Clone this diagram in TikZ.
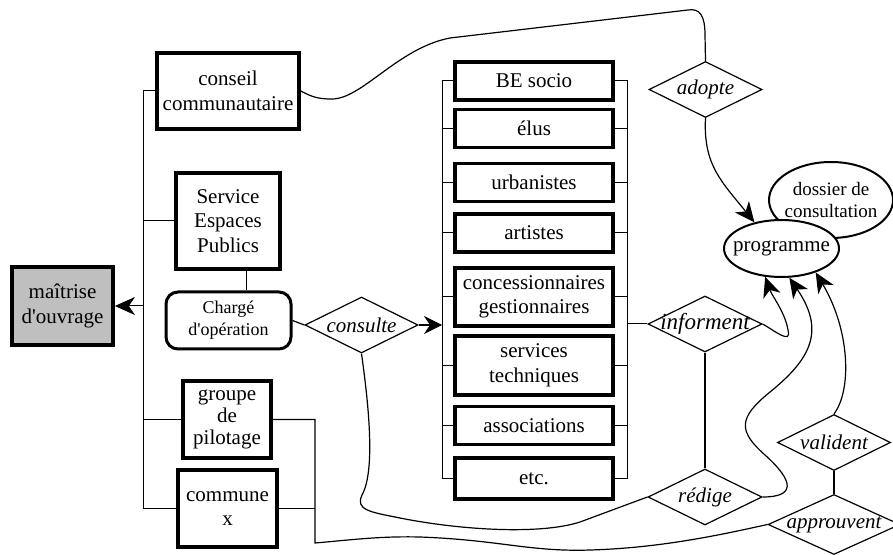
\documentclass[tikz,border=0pt]{standalone}
\usepackage{fontspec}
\setmainfont{Liberation Serif}
\usetikzlibrary{shapes.geometric,arrows.meta}
\begin{document}
\begin{tikzpicture}[x=0.5pt,y=-0.5pt,
  txt/.style={font=\fontsize{10.5}{12.3}\selectfont, align=center, inner sep=0pt},
  box/.style={txt, draw, line width=1.9pt},
  mid/.style={box, minimum width=79pt, minimum height=19pt},
  midtwo/.style={box, minimum width=79pt, minimum height=29pt},
  itx/.style={inner sep=0pt, font=\fontsize{10.5}{12}\selectfont\itshape},
  rel/.style={diamond, draw, line width=0.6pt, inner sep=0pt, minimum width=56.5pt, minimum height=28pt},
  oval/.style={ellipse, draw, line width=1pt, inner sep=0pt},
  conn/.style={line width=0.6pt},
  bus/.style={line width=0.5pt},
  bigarr/.style={-{Stealth[length=10pt,width=9pt,inset=3pt]}},
  arr/.style={-{Stealth[length=10pt,width=9pt,inset=3pt]}}]
\clip (0,0) rectangle (893,555);
\fill[white] (0,0) rectangle (893,555);

% left column
\node[box, fill=black!25, minimum width=50.5pt, minimum height=39pt] (mo) at (62.5,306) {maîtrise\\d\textquotesingle ouvrage};
\node[box, minimum width=71pt, minimum height=38pt] (cc) at (228,91) {conseil\\communautaire};
\node[box, line width=2.2pt, minimum width=52pt, minimum height=48pt] (sep) at (228,221) {Service\\Espaces\\Publics};
\node[draw, rounded corners=6pt, line width=1.5pt, minimum width=62.5pt, minimum height=28.5pt, align=center, inner sep=0pt, font=\fontsize{9}{11}\selectfont] (co) at (228.5,320.5) {Chargé\\d\textquotesingle opération};
\node[box, font=\fontsize{10.5}{11}\selectfont, minimum width=44pt, minimum height=38.5pt] (gp) at (227,419.5) {groupe\\de\\pilotage};
\node[box, minimum width=49.5pt, minimum height=38.5pt] (cx) at (227.5,508.5) {commune\\x};

% middle column
\node[mid] (be) at (534,81) {BE socio};
\node[mid] (el) at (534,128.5) {élus};
\node[mid] (ur) at (534,182.5) {urbanistes};
\node[mid] (ar) at (534,233) {artistes};
\node[midtwo] (cg) at (534,297) {concessionnaires\\gestionnaires};
\node[midtwo, minimum height=29.5pt] (st) at (534,365.5) {services\\techniques};
\node[mid] (as) at (534,425.5) {associations};
\node[mid, minimum height=20.5pt] (et) at (534,478.5) {etc.};

% relations
\node[rel, label={[itx]center:consulte}] (cons) at (361.5,325) {};
\node[rel, label={[itx]center:adopte}] (adop) at (705.5,89.5) {};
\node[rel, minimum width=57pt, label={[itx, font=\fontsize{11.5}{13}\selectfont\itshape]center:informent}] (inf) at (705,324) {};
\node[rel, minimum width=57pt, label={[itx]center:rédige}] (red) at (705,497) {};
\node[rel, label={[itx]center:valident}] (val) at (834,442.5) {};
\node[rel, minimum width=66pt, minimum height=30pt, label={[itx]center:approuvent}] (app) at (834,524.5) {};

% ellipses
\node[oval, minimum width=62pt, minimum height=38pt, label={[inner sep=0pt, align=center, font=\fontsize{9.5}{10.8}\selectfont]center:dossier de\\consultation}] (dos) at (831,200) {};
\node[oval, fill=white, minimum width=57.5pt, minimum height=28.5pt, label={[txt]center:programme}] (prog) at (781.5,248.5) {};

% left bus
\coordinate (lbx) at (143,0);
\draw[bus] (cc.west) -- (cc.west -| lbx) -- (cx.west -| lbx) -- (cx.west);
\draw[bus] (sep.west) -- (sep.west -| lbx);
\draw[bus] (gp.west) -- (gp.west -| lbx);
\draw[bus, bigarr] (mo.east -| lbx) -- (mo.east);

% SEP to charge
\coordinate (sepc) at ([xshift=9pt]sep.south);
\draw[bus] (sepc) -- (sepc |- co.north);
\draw[conn] (co.east) -- (cons.west);

% middle buses
\coordinate (mlx) at (442,0);
\coordinate (mrx) at (627,0);
\draw[bus] (be.west) -- (be.west -| mlx) -- (et.west -| mlx) -- (et.west);
\draw[bus] (be.east) -- (be.east -| mrx) -- (et.east -| mrx) -- (et.east);
\foreach \n in {el,ur,ar,cg,st,as}{
  \draw[bus] (\n.west) -- (\n.west -| mlx);
  \draw[bus] (\n.east) -- (\n.east -| mrx);
}
\draw[conn, -{Stealth[length=9pt,width=9pt,inset=3pt]}] (cons.east) -- (cons.east -| mlx);
\draw[bus] (inf.west -| mrx) -- (inf.west);

% vertical links
\draw[conn] (inf.south) -- (red.north);
\draw[conn] (val.south) -- (app.north);

% conseil -> adopte
\draw[conn] (cc.east) .. controls (312,97) and (318,99) .. (332,99)
  .. controls (362,99) and (398,48) .. (450,38) -- (688,10)
  .. controls (700,8) and (705,16) .. (705,35) -- (adop.north);

% adopte -> programme
\draw[conn, arr] (adop.south) .. controls (703,165) and (722,182) .. (prog.136);

% informent -> programme
\draw[conn, arr] (inf.east) .. controls (775,331) and (792,345) .. (788,330)
  .. controls (785,312) and (772,296) .. (prog.240);

% redige -> programme
\draw[conn, arr] (red.east) .. controls (795,497) and (795,482) .. (765,455)
  .. controls (738,431) and (738,418) .. (770,392)
  .. controls (812,358) and (825,330) .. (prog.285);

% valident -> programme
\draw[conn, arr] (val.north) .. controls (852,390) and (850,330) .. (prog.325);

% consulte -> redige
\draw[conn] (cons.south) .. controls (368,400) and (376,470) .. (362,495)
  .. controls (355,510) and (370,512) .. (400,518)
  .. controls (460,530) and (540,535) .. (580,522) -- (red.west);

% groupe / commune -> approuvent
\coordinate (gcb) at (315,543);
\draw[conn] (gp.east) -| (gcb)
  .. controls (350,540) and (380,536) .. (420,537)
  .. controls (500,540) and (530,552) .. (590,550)
  .. controls (660,548) and (720,535) .. (app.west);
\draw[conn] (cx.east) -- (cx.east -| gcb);
\end{tikzpicture}
\end{document}
